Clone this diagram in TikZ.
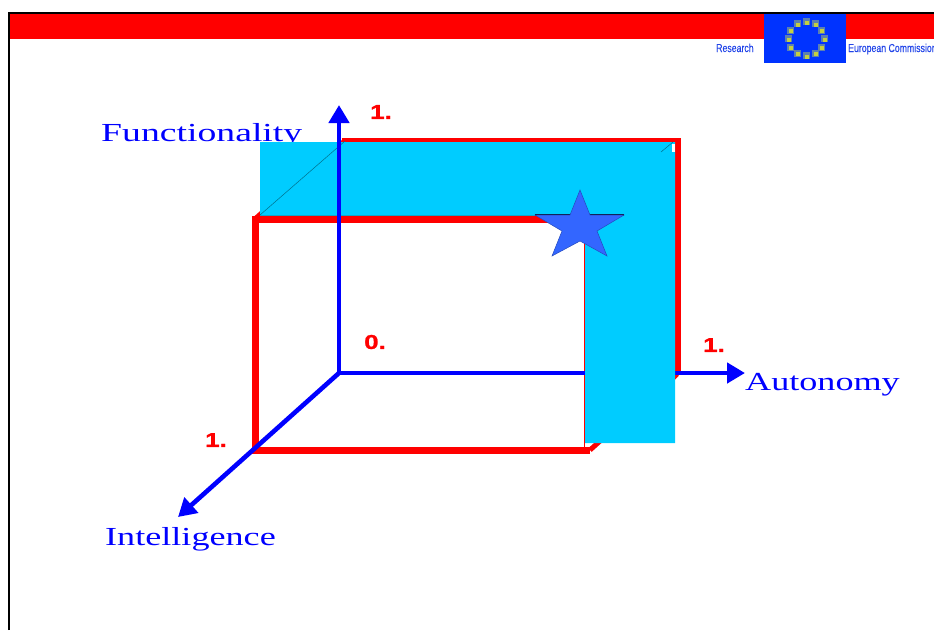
\documentclass[tikz,border=0pt]{standalone}
\usepackage{fontspec}
\usetikzlibrary{arrows.meta}
\newfontfamily\axisfont[FakeStretch=1.45]{Liberation Serif}
\newfontfamily\axisfontb[FakeStretch=1.39]{Liberation Serif}
\newfontfamily\tickfont[FakeStretch=1.3,FakeBold=1.2]{Liberation Sans Bold}
\newfontfamily\logofont[FakeStretch=0.76,FakeBold=0.3]{Liberation Sans}
\definecolor{axisblue}{HTML}{0000FF}
\definecolor{boxred}{HTML}{FF0000}
\definecolor{panelcyan}{HTML}{00CCFF}
\definecolor{paneledge}{HTML}{14A5C8}
\definecolor{starblue}{HTML}{3366FF}
\definecolor{logoblue}{HTML}{0033FF}
\definecolor{logotext}{HTML}{2245E8}
\definecolor{logostar}{HTML}{C4D040}
\definecolor{logohalo}{HTML}{5C80B0}
\tikzset{
  axislabel/.style={anchor=base west,inner sep=0pt,text=axisblue,font=\axisfont\fontsize{26}{26}\selectfont},
  axislabelb/.style={anchor=base west,inner sep=0pt,text=axisblue,font=\axisfontb\fontsize{26}{26}\selectfont},
  ticklabel/.style={anchor=center,inner sep=0pt,text=boxred,font=\tickfont\fontsize{20}{20}\selectfont},
  logolabel/.style={anchor=base west,inner sep=0pt,text=logotext,font=\logofont\fontsize{11.5}{11.5}\selectfont},
  axisline/.style={draw=axisblue,line width=4.6pt,-{Triangle[length=18pt,width=20pt]}},
  boxline/.style={draw=boxred,line width=7pt,line join=miter},
  thinedge/.style={draw=black!45!panelcyan,line width=0.5pt},
  eustar/.style={fill=logostar,draw=none,minimum size=4pt,inner sep=0pt,shape=rectangle},
  eusthalo/.style={fill=logohalo,draw=none,minimum size=7pt,inner sep=0pt,shape=rectangle}
}
\begin{document}
\begin{tikzpicture}[x=1pt,y=-1pt]
\useasboundingbox (0,0) rectangle (934,630);
\clip (0,0) rectangle (934,630);
% slide frame
\fill[boxred] (10,14) rectangle (934,39);
\draw[black,line width=1.6pt] (9.2,630) -- (9.2,13) -- (934,13);
% logo
\fill[logoblue] (764,14) rectangle (846,63);
\foreach \a in {0,30,...,330}{
  \node[eusthalo] at ({806+18*cos(\a)},{38.5+17*sin(\a)}) {};
  \node[eustar] at ({806.5+18*cos(\a)},{39.5+17*sin(\a)}) {};
}
\node[logolabel] (research) at (716,52) {Research};
\node[logolabel] (commission) at (848,52) {European Commission};
% named corners
\coordinate (O) at (339,373);
\coordinate (Ytip) at (339,105);
\coordinate (Xtip) at (745,373);
\coordinate (Ztip) at (178,517);
\coordinate (ftl) at (255,219);
\coordinate (fbl) at (255,450);
\coordinate (fbr) at (590,450);
\coordinate (ftr) at (590,219);
\coordinate (btl) at (342,141);
\coordinate (btr) at (677,141);
\coordinate (bbr) at (677,374);
% labels under the panel
\node[axislabel] (func) at (101,141) {Functionality};
\node[axislabelb] (auto) at (745,390) {Autonomy};
\node[axislabelb] (intel) at (105,545) {Intelligence};
\node[ticklabel] (t1y) at (381,112) {1.};
\node[ticklabel] (t0) at (375,342) {0.};
\node[ticklabel] (t1x) at (714,345) {1.};
\node[ticklabel] (t1z) at (216,440) {1.};
% red box
\draw[boxline,line width=5pt] (fbr) -- (600,441);
\draw[boxline,line width=5pt] (bbr) -- (670,381);
\draw[boxline] (ftr) -- (ftl) -- (fbl) -- (fbr);
\draw[boxline,line width=5pt] (ftl) -- (btl);
\draw[boxline] (btl) -- (btr) -- (bbr);
\draw[draw=boxred,line width=1pt] (584.5,219) -- (584.5,447);
% horizontal axis passes under the panel
\draw[axisline] (O) -- (Xtip);
% cyan panel
\fill[panelcyan] (260,142) -- (675,142) -- (675,443) -- (585,443) -- (585,215) -- (260,215) -- cycle;
\draw[paneledge,line width=1pt] (260,215) -- (540,215);
\draw[thinedge] (260,215) -- (345,141);
\draw[thinedge] (661,152) -- (673,142);
\fill[white] (672,144) rectangle (674.5,152);
% vertical and depth axes
\draw[axisline] (O) -- (Ytip);
\draw[axisline] (O) -- (Ztip);
% star
\draw[black!70!starblue,line width=1.2pt] (535,215) -- (624,215);
\filldraw[fill=starblue,draw=black!25!starblue,line width=0.5pt]
  (580,190) -- (590,215) -- (624,215) -- (597,231) -- (607,256) -- (580,241)
  -- (552,256) -- (562,231) -- (535,215) -- (570,215) -- cycle;
\end{tikzpicture}
\end{document}
